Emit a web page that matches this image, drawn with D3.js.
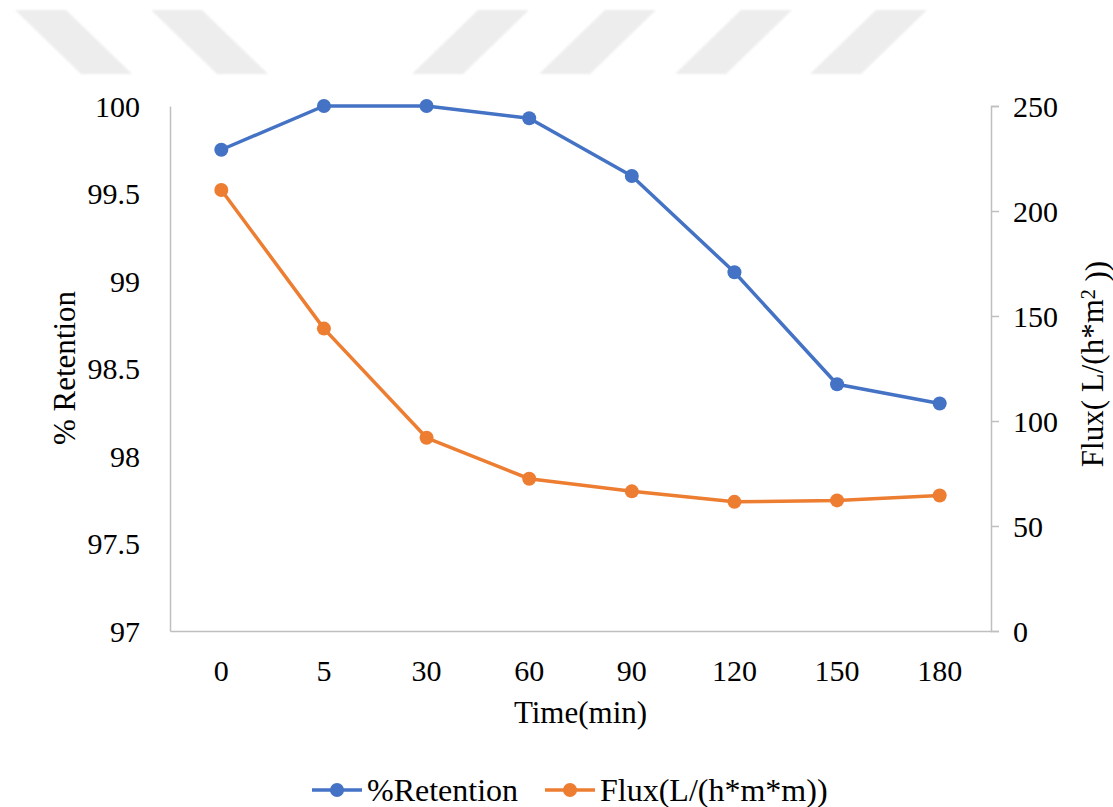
<!DOCTYPE html>
<html>
<head>
<meta charset="utf-8">
<script src="https://cdn.jsdelivr.net/npm/d3@7"></script>
<style>
  html, body { margin: 0; padding: 0; background: #ffffff; }
  svg text { font-family: "Liberation Serif", "Times New Roman", serif; fill: #000; }
</style>
</head>
<body>
<svg id="chart" width="1113" height="807" font-family="Liberation Serif, serif"></svg>
<script>
// Sampling times (minutes) shown as evenly spaced categories
const categories = ["0", "5", "30", "60", "90", "120", "150", "180"];

// % retention (left axis)
const retention = [99.75, 100, 100, 99.93, 99.60, 99.05, 98.41, 98.30];

// Permeate flux, L/(h*m^2) (right axis)
const flux = [210, 144, 92, 72.5, 66.5, 61.5, 62.2, 64.5];

// Axis ticks
const leftTicks = [97, 97.5, 98, 98.5, 99, 99.5, 100];
const rightTicks = [0, 50, 100, 150, 200, 250];

const seriesNames = ["%Retention", "Flux(L/(h*m*m))"];
const colors = ["#4472C4", "#ED7D31"];

const svg = d3.select("#chart");
const plot = { left: 170, right: 991, top: 106, bottom: 631 };
const axisGray = "#bfbfbf";
const serif = "'Liberation Serif', 'Times New Roman', serif";

// Faint banner stripes across the top of the page
const defs = svg.append("defs");
defs.append("filter").attr("id", "soft")
  .append("feGaussianBlur").attr("stdDeviation", 0.8);
const band = svg.append("g").attr("filter", "url(#soft)").attr("fill", "#ededed");
const stripeTop = 10, stripeBottom = 74, stripeW = 51, stripeShift = 66;
[15, 151].forEach(x0 => {
  band.append("path").attr("d",
    `M${x0},${stripeTop}L${x0 + stripeW},${stripeTop}L${x0 + stripeW + stripeShift},${stripeBottom}L${x0 + stripeShift},${stripeBottom}Z`);
});
[478, 605, 741, 876].forEach(x0 => {
  band.append("path").attr("d",
    `M${x0},${stripeTop}L${x0 + stripeW},${stripeTop}L${x0 + stripeW - stripeShift},${stripeBottom}L${x0 - stripeShift},${stripeBottom}Z`);
});

// Scales
const x = d3.scaleBand().domain(categories).range([plot.left, plot.right]);
const cx = c => x(c) + x.bandwidth() / 2;
const yL = d3.scaleLinear().domain([97, 100]).range([plot.bottom, plot.top]);
const yR = d3.scaleLinear().domain([0, 250]).range([plot.bottom, plot.top]);

const fmt = d => String(d);

// Left axis (line only, no tick marks)
const gL = svg.append("g").attr("transform", `translate(${plot.left},0)`)
  .call(d3.axisLeft(yL).tickValues(leftTicks).tickFormat(fmt).tickSize(0).tickPadding(30));
gL.select(".domain").attr("stroke", axisGray).attr("stroke-width", 1.5);
gL.selectAll(".tick text").attr("dy", "0.34em");

// Right axis with short outward ticks
const gR = svg.append("g").attr("transform", `translate(${plot.right},0)`)
  .call(d3.axisRight(yR).tickValues(rightTicks).tickFormat(fmt).tickSize(8).tickPadding(14));
gR.select(".domain").attr("stroke", axisGray).attr("stroke-width", 1.5);
gR.selectAll(".tick line").attr("stroke", axisGray).attr("stroke-width", 1.5);
gR.selectAll(".tick text").attr("dy", "0.34em");

// Bottom axis (category labels)
const gB = svg.append("g").attr("transform", `translate(0,${plot.bottom})`)
  .call(d3.axisBottom(x).tickSize(0).tickPadding(29));
gB.select(".domain").attr("stroke", axisGray).attr("stroke-width", 1.5);

[gL, gR, gB].forEach(g => g.attr("font-family", serif).attr("font-size", 30));
svg.selectAll(".tick text").attr("fill", "#000")
  .style("font-family", serif).style("font-size", "30px");

// Axis titles
svg.append("text").attr("x", (plot.left + plot.right) / 2).attr("y", 723)
  .attr("text-anchor", "middle").style("font-size", "31px").text("Time(min)");
svg.append("text").attr("transform", "translate(75,368) rotate(-90)")
  .attr("text-anchor", "middle").style("font-size", "31px").text("% Retention");
const rt = svg.append("text").attr("transform", "translate(1103,364) rotate(-90)")
  .attr("text-anchor", "middle").style("font-size", "31px");
rt.append("tspan").text("Flux( L/(h*m");
rt.append("tspan").attr("dy", "-0.4em").style("font-size", "20px").text("2");
rt.append("tspan").attr("dy", "0.4em").text(" ))");

// Series lines and markers
const series = [
  { name: seriesNames[0], values: retention, y: yL, color: colors[0] },
  { name: seriesNames[1], values: flux, y: yR, color: colors[1] }
];
series.forEach(s => {
  const line = d3.line().x((d, i) => cx(categories[i])).y(d => s.y(d));
  svg.append("path").datum(s.values).attr("d", line)
    .attr("fill", "none").attr("stroke", s.color).attr("stroke-width", 3.5)
    .attr("stroke-linejoin", "round");
  svg.append("g").selectAll("circle").data(s.values).join("circle")
    .attr("cx", (d, i) => cx(categories[i])).attr("cy", d => s.y(d))
    .attr("r", 7).attr("fill", s.color);
});

// Legend
const legendX = [312, 545];
const legend = svg.append("g");
series.forEach((s, i) => {
  const g = legend.append("g").attr("transform", `translate(${legendX[i]},790)`);
  g.append("line").attr("x1", 0).attr("x2", 50).attr("y1", 0).attr("y2", 0)
    .attr("stroke", s.color).attr("stroke-width", 3.5);
  g.append("circle").attr("cx", 25).attr("cy", 0).attr("r", 7).attr("fill", s.color);
  g.append("text").attr("x", 55).attr("y", 11).style("font-size", "32px").text(s.name);
});
</script>
</body>
</html>
